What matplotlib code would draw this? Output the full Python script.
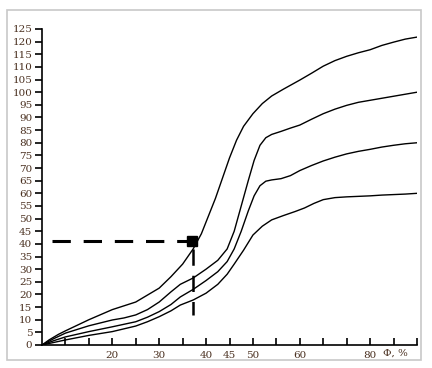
import matplotlib

matplotlib.use("Agg")
import matplotlib.pyplot as plt
from matplotlib.patches import Rectangle

# x positions are in tick units (the axis has 16 equal tick steps, labelled unevenly)
x1 = [0, 0.3, 0.7, 1, 2, 3, 4, 5, 5.5, 6, 6.45, 6.8, 7.1, 7.4, 7.7, 8.0, 8.3, 8.6, 9.0,
      9.4, 9.8, 10.3, 11, 11.5, 12, 12.5, 13, 13.5, 14, 14.5, 15, 15.5, 16]
y1 = [0, 2.0, 4.2, 5.6, 10.0, 14.0, 17.0, 22.5, 27.0, 32.0, 38.0, 44.0, 51.0, 58.0, 66.0,
      74.0, 81.0, 86.5, 91.5, 95.5, 98.5, 101.2, 104.8, 107.5, 110.3, 112.5, 114.2, 115.6,
      116.8, 118.5, 119.8, 121.0, 121.8]

x2 = [0, 0.5, 1, 2, 3, 3.5, 4, 4.5, 5, 5.5, 5.9, 6.45, 7, 7.5, 7.9, 8.2, 8.5, 8.8, 9.05,
      9.3, 9.55, 9.8, 10.2, 10.6, 11, 11.5, 12, 12.5, 13, 13.5, 14, 14.5, 15, 15.5, 16]
y2 = [0, 2.5, 4.7, 7.6, 9.9, 10.7, 11.9, 14.0, 17.0, 21.0, 24.0, 26.5, 30.0, 33.5, 38.0,
      45.0, 55.0, 65.0, 73.0, 79.0, 82.0, 83.3, 84.5, 85.8, 87.0, 89.3, 91.5, 93.3, 94.8,
      96.0, 96.8, 97.6, 98.4, 99.2, 100.0]

x3 = [0, 0.5, 1, 2, 3, 4, 4.5, 5, 5.5, 5.9, 6.45, 7, 7.5, 7.9, 8.2, 8.5, 8.8, 9.05, 9.3,
      9.55, 9.8, 10.2, 10.6, 11, 11.5, 12, 12.5, 13, 13.5, 14, 14.5, 15, 15.5, 16]
y3 = [0, 1.7, 3.2, 5.3, 7.2, 9.2, 11.0, 13.2, 16.0, 19.0, 22.0, 25.5, 29.0, 33.0, 38.0,
      45.0, 53.0, 59.0, 63.0, 64.8, 65.3, 65.8, 67.0, 69.0, 71.0, 72.8, 74.3, 75.6, 76.6,
      77.4, 78.3, 79.0, 79.6, 80.0]

x4 = [0, 0.5, 1, 2, 3, 4, 4.5, 5, 5.5, 5.9, 6.45, 7, 7.5, 7.9, 8.2, 8.6, 9.0, 9.4, 9.8,
      10.3, 10.8, 11.2, 11.6, 12, 12.5, 13, 13.5, 14, 14.5, 15, 15.5, 16]
y4 = [0, 1.0, 2.0, 3.8, 5.3, 7.5, 9.2, 11.2, 13.5, 15.8, 17.8, 20.5, 24.0, 28.0, 32.0,
      37.5, 43.5, 47.0, 49.5, 51.2, 52.8, 54.2, 56.0, 57.5, 58.3, 58.6, 58.8, 59.0, 59.3,
      59.5, 59.7, 60.0]

point_x = 6.38
point_y = 41.0
drop_to = 12.0

y_ticks = list(range(0, 126, 5))
x_ticks = list(range(1, 17))
x_labels = {3: "20", 5: "30", 7: "40", 8: "45", 9: "50", 11: "60", 14: "80"}

label_color = "#4a3020"

fig = plt.figure(figsize=(4.32, 3.68), dpi=100)
fig.patches.append(Rectangle((7 / 432, 1 - 360 / 368), 414 / 432, 350 / 368,
                             transform=fig.transFigure, fill=False,
                             edgecolor="#c8c8c8", linewidth=1.2))
ax = fig.add_axes([42 / 432, 23 / 368, 375 / 432, 316 / 368])

for xs, ys in [(x1, y1), (x2, y2), (x3, y3), (x4, y4)]:
    ax.plot(xs, ys, color="black", linewidth=1.0, solid_joinstyle="round")

# guide lines to the marked point
ax.plot([0.43, point_x], [point_y, point_y], color="black", linewidth=2.2,
        dashes=(6, 4.2))
ax.plot([point_x + 0.05, point_x + 0.05], [point_y - 3, drop_to], color="black",
        linewidth=1.8, dashes=(6.5, 4))
ax.plot([point_x], [point_y], marker="s", markersize=7, color="black")

ax.set_xlim(0, 16)
ax.set_ylim(0, 125)
for side in ("top", "right"):
    ax.spines[side].set_visible(False)
ax.spines["left"].set_linewidth(1.2)
ax.spines["bottom"].set_linewidth(1.2)

ax.set_yticks(y_ticks)
ax.set_yticklabels([str(v) for v in y_ticks], fontsize=7.5, color=label_color,
                   family="DejaVu Serif")
ax.tick_params(axis="y", direction="out", length=5, width=1.2, pad=2)

ax.set_xticks(x_ticks)
ax.set_xticklabels([x_labels.get(t, "") for t in x_ticks], fontsize=7.5,
                   color=label_color, family="DejaVu Serif")
ax.tick_params(axis="x", direction="in", length=5, width=1.2, pad=4)
ax.text(15.1, -1.6, "Φ, %", ha="center", va="top", fontsize=7.5,
        color=label_color, family="DejaVu Serif")

fig.savefig("out.png", dpi=100)
